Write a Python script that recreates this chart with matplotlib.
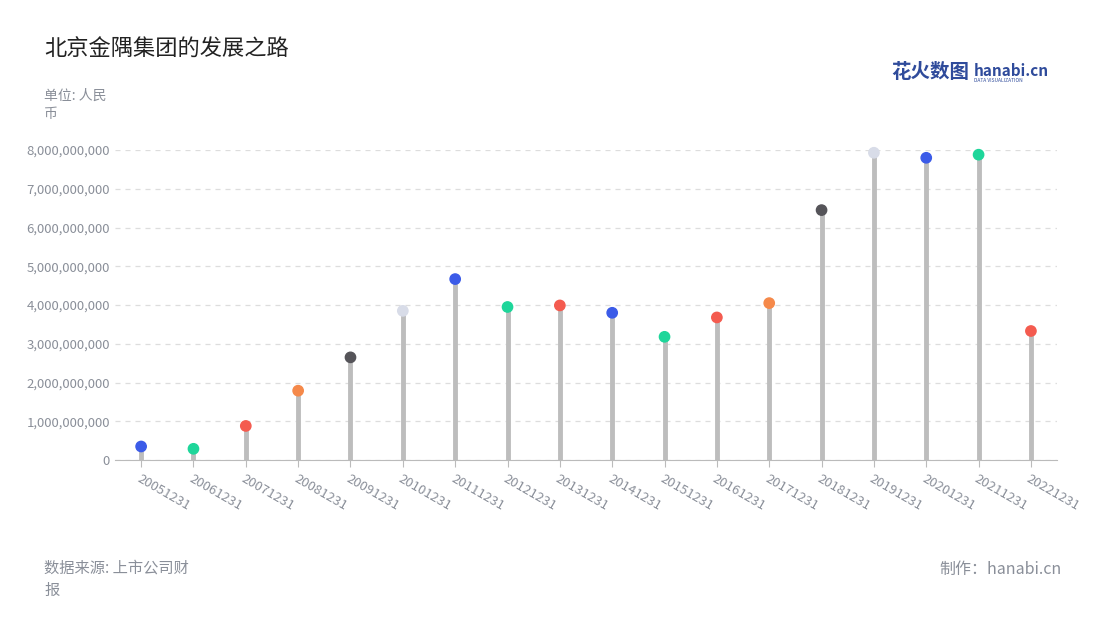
import matplotlib.pyplot as plt

plt.rcParams['font.family'] = ['Noto Sans CJK SC', 'DejaVu Sans']

dates = ['20051231', '20061231', '20071231', '20081231', '20091231', '20101231',
         '20111231', '20121231', '20131231', '20141231', '20151231', '20161231',
         '20171231', '20181231', '20191231', '20201231', '20211231', '20221231']
values = [350e6, 290e6, 880e6, 1790e6, 2650e6, 3850e6, 4670e6, 3950e6, 3990e6,
          3800e6, 3180e6, 3680e6, 4050e6, 6450e6, 7930e6, 7800e6, 7880e6, 3330e6]
palette = ['#3b5be8', '#1ed69a', '#f45b4f', '#f5894a', '#555459', '#d8dce8',
           '#3b5be8', '#1ed69a', '#f45b4f']


def main():
    fig = plt.figure(figsize=(11, 6.2), dpi=100)
    ax = fig.add_axes([0.1045, 0.258, 0.8565, 0.5])
    xs = range(len(dates))
    colors = [palette[i % len(palette)] for i in xs]
    ax.vlines(xs, 0, values, color='#bdbdbd', linewidth=3.5, zorder=2)
    ax.scatter(xs, values, s=55, c=colors, zorder=3, clip_on=False)

    ax.set_xlim(-0.5, len(dates) - 0.5)
    ax.set_ylim(0, 8e9)
    ax.set_yticks([i * 1e9 for i in range(9)])
    ax.set_yticklabels(['0'] + [f'{i * 1000000000:,}' for i in range(1, 9)])
    ax.set_xticks(list(xs))
    ax.set_xticklabels(dates, rotation=-30, ha='left', rotation_mode='anchor')
    ax.tick_params(axis='both', colors='#8a8f99', labelsize=9.5, length=0)
    ax.tick_params(axis='x', length=5, color='#bbbbbb', pad=4)
    ax.grid(axis='y', color='#dddddd', linestyle=(0, (4, 4)), linewidth=0.9)
    ax.set_axisbelow(True)
    for s in ['top', 'right', 'left']:
        ax.spines[s].set_visible(False)
    ax.spines['bottom'].set_color('#bbbbbb')

    fig.text(0.04, 0.91, '北京金隅集团的发展之路', fontsize=16, color='#222222')
    fig.text(0.04, 0.81, '单位: 人民\n币', fontsize=10, color='#8a8f99', linespacing=1.4)
    fig.text(0.04, 0.04, '数据来源: 上市公司财\n报', fontsize=11, color='#8a8f99', linespacing=1.4)
    fig.text(0.965, 0.075, '制作：hanabi.cn', fontsize=11.5, color='#8a8f99', ha='right')
    fig.text(0.81, 0.875, '花火数图', fontsize=14, color='#2f4b9b', weight='bold')
    fig.text(0.885, 0.878, 'hanabi.cn', fontsize=11, color='#2f4b9b', weight='bold')
    fig.text(0.885, 0.867, 'DATA VISUALIZATION', fontsize=3.5, color='#2f4b9b')

    fig.savefig('out.png')


if __name__ == '__main__':
    main()
